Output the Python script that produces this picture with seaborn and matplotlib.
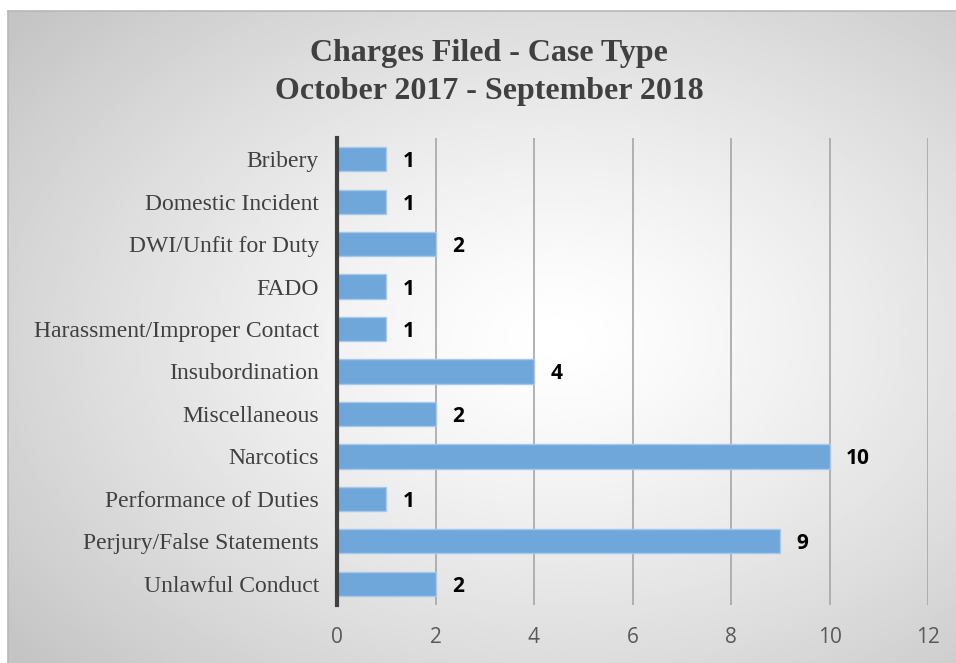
import numpy as np
import pandas as pd
import matplotlib
matplotlib.use("Agg")
import matplotlib.pyplot as plt
import seaborn as sns

# data
case_types = ["Bribery", "Domestic Incident", "DWI/Unfit for Duty", "FADO",
              "Harassment/Improper Contact", "Insubordination", "Miscellaneous",
              "Narcotics", "Performance of Duties", "Perjury/False Statements",
              "Unlawful Conduct"]
charges = [1, 1, 2, 1, 1, 4, 2, 10, 1, 9, 2]
x_ticks = [0, 2, 4, 6, 8, 10, 12]

df = pd.DataFrame({"case_type": case_types, "charges": charges})

sns.set_style("white")
fig = plt.figure(figsize=(9.56, 6.63), dpi=100)

# gradient background frame
bg = fig.add_axes([8 / 956, 0, 1 - 8 / 956, 1 - 11 / 663])
yy, xx = np.mgrid[0:1:300j, 0:1:300j]
r = np.sqrt((xx - 0.58) ** 2 + (yy - 0.5) ** 2)
r = np.clip(r / 0.75, 0, 1)
shade = 1.0 - 0.23 * r ** 1.3
bg.imshow(shade, cmap="gray", vmin=0, vmax=1, extent=[0, 1, 0, 1],
          aspect="auto", interpolation="bilinear")
bg.set_xticks([])
bg.set_yticks([])
for s in ["top", "left"]:
    bg.spines[s].set_color("#b8b8b8")
    bg.spines[s].set_linewidth(1.2)
for s in ["right", "bottom"]:
    bg.spines[s].set_visible(False)

ax = fig.add_axes([337 / 956, 1 - 605 / 663, (928 - 337) / 956, (605 - 138) / 663])
ax.patch.set_alpha(0)
sns.barplot(data=df, x="charges", y="case_type", ax=ax, color="#6fa7db",
            saturation=1, width=0.57, edgecolor="#a8c8ea", linewidth=1, zorder=3)

ax.set_xlim(0, 12)
ax.set_xticks(x_ticks)
ax.set_xticklabels([str(t) for t in x_ticks], fontsize=15, color="#595959",
                   family=["Open Sans", "DejaVu Sans"])
ax.tick_params(axis="x", length=0, pad=16)
ax.tick_params(axis="y", length=0, pad=13)
for lbl in ax.get_yticklabels():
    lbl.set_fontfamily(["Liberation Serif", "DejaVu Serif"])
    lbl.set_fontsize(17)
    lbl.set_color("#404040")
ax.set_xlabel("")
ax.set_ylabel("")
ax.xaxis.grid(True, color="#a6a6a6", linewidth=1.2, zorder=0)
ax.set_axisbelow(True)
for s in ["top", "right", "bottom"]:
    ax.spines[s].set_visible(False)
ax.spines["left"].set_color("#404040")
ax.spines["left"].set_linewidth(3)
ax.spines["left"].set_zorder(5)

for i, v in enumerate(charges):
    ax.text(v + 0.33, i, str(v), va="center_baseline", ha="left", fontsize=15,
            fontweight="bold", color="black", family=["Open Sans", "DejaVu Sans"])

fig.text(489 / 956, 1 - 53 / 663, "Charges Filed - Case Type", ha="center",
         va="center", fontsize=23, fontweight="bold", color="#404040",
         family=["Liberation Serif", "DejaVu Serif"])
fig.text(489 / 956, 1 - 91 / 663, "October 2017 - September 2018", ha="center",
         va="center", fontsize=23, fontweight="bold", color="#404040",
         family=["Liberation Serif", "DejaVu Serif"])

fig.savefig("out.png", dpi=100)
